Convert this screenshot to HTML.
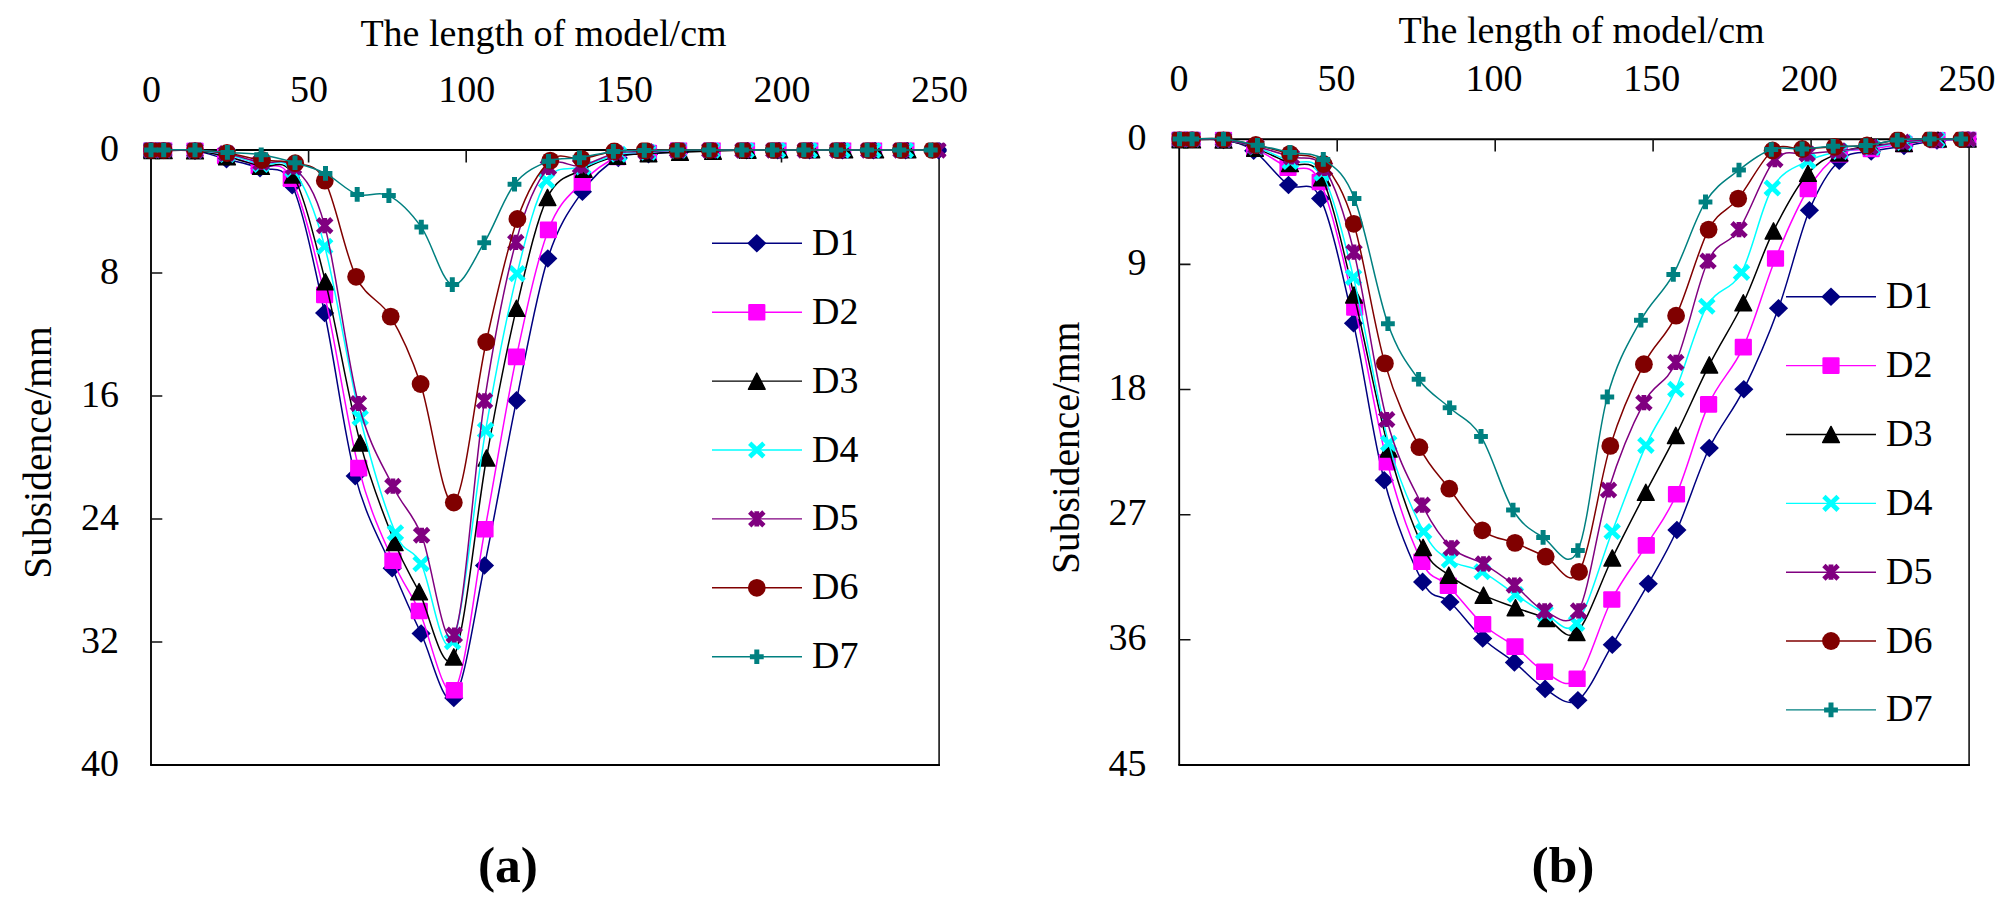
<!DOCTYPE html>
<html lang="en">
<head>
<meta charset="utf-8">
<title>Subsidence curves</title>
<style>
html,body{margin:0;padding:0;background:#fff;}
body{width:2008px;height:914px;overflow:hidden;}
svg{display:block;}
svg text{font-family:"Liberation Serif", "Times New Roman", serif;font-size:38px;fill:#000;}
.cap{font-weight:bold;font-size:51.5px;}
.yt{font-size:39.5px;}
</style>
</head>
<body>
<svg width="2008" height="914" viewBox="0 0 2008 914">
<defs>
<path id="m1" d="M0 -9.3L9.6 0L0 9.3L-9.6 0Z" fill="#000080"/>
<rect id="m2" x="-8.6" y="-8.3" width="17.2" height="16.6" rx="1.2" fill="#ff00ff"/>
<path id="m3" d="M0 -8.1L8.4 8.1L-8.4 8.1Z" fill="#000000" stroke="#000000" stroke-width="1.4" stroke-linejoin="round"/>
<path id="m4" d="M-7.1 -6.8L7.1 6.8M-7.1 6.8L7.1 -6.8" stroke="#00ffff" stroke-width="4.8" fill="none"/>
<path id="m5" d="M-7.1 -6.8L7.1 6.8M-7.1 6.8L7.1 -6.8M0 -7.6L0 7.6" stroke="#800080" stroke-width="4.8" fill="none"/>
<circle id="m6" r="8.9" fill="#800000"/>
<path id="m7" d="M-6.9 0L6.9 0M0 -7.3L0 7.3" stroke="#008080" stroke-width="5" fill="none"/>
<clipPath id="clipL"><rect x="143.4" y="142.4" width="803.3" height="630.2"/></clipPath>
<clipPath id="clipR"><rect x="1171.6" y="131.7" width="805.1" height="641"/></clipPath>
</defs>
<rect width="2008" height="914" fill="#fff"/>
<g id="left-chart">
<path d="M939.1 150V765.9" fill="none" stroke="#222" stroke-width="1.7"/>
<path d="M150.1 765H939.9" fill="none" stroke="#000" stroke-width="1.8"/>
<path d="M151 765L151 150L939.1 150" fill="none" stroke="#000" stroke-width="1.85" stroke-linejoin="miter"/>
<path d="M308.6 150v12.4M466.2 150v12.4M623.9 150v12.4M781.5 150v12.4M151 273h11.3M151 396h11.3M151 519h11.3M151 642h11.3" stroke="#111" stroke-width="1.6" fill="none"/>
<text x="151.5" y="102" text-anchor="middle">0</text>
<text x="309.1" y="102" text-anchor="middle">50</text>
<text x="466.7" y="102" text-anchor="middle">100</text>
<text x="624.4" y="102" text-anchor="middle">150</text>
<text x="782" y="102" text-anchor="middle">200</text>
<text x="939.6" y="102" text-anchor="middle">250</text>
<text x="119" y="160.5" text-anchor="end">0</text>
<text x="119" y="283.5" text-anchor="end">8</text>
<text x="119" y="406.5" text-anchor="end">16</text>
<text x="119" y="529.5" text-anchor="end">24</text>
<text x="119" y="652.5" text-anchor="end">32</text>
<text x="119" y="775.5" text-anchor="end">40</text>
<text x="543.5" y="45.5" text-anchor="middle">The length of model/cm</text>
<text class="yt" transform="translate(50.8 452.5) rotate(-90)" text-anchor="middle">Subsidence/mm</text>
<g clip-path="url(#clipL)">
<path d="M151 149.9C153.1 149.9 156.4 149.8 163.7 149.9C171 150.1 184.5 149.2 195 150.8C205.5 152.4 215.7 156.3 226.5 159.2C237.3 162.1 249.1 164 260 168.3C270.9 172.7 281.4 161.2 292.2 185.3C303 209.4 314.1 264.5 324.6 313C335.1 361.5 343.9 433.6 355.2 476.1C366.5 518.6 381.2 542 392.2 568.2C403.2 594.4 410.8 611.9 421.1 633.5C431.4 655.1 443.2 709.2 453.8 697.9C464.4 686.6 474.1 615.1 484.5 565.5C494.9 515.9 505.9 451.6 516.5 400.4C527 349.2 536.8 293.3 547.8 258.5C558.8 223.7 570.6 208.4 582.4 191.7C594.1 174.9 607.3 164.2 618.3 158C629.3 151.8 638.2 155.3 648.5 154.2C658.8 153.1 669.4 152.3 680 151.6C690.6 150.9 701 150.4 712.1 150.2C723.2 150 735.4 150.2 746.3 150.2C757.3 150.2 767.2 150.2 777.7 150.2C788.3 150.2 798.8 150.2 809.6 150.2C820.3 150.2 831.8 150.2 842.4 150.2C853 150.2 862.8 150.2 873.3 150.2C883.8 150.2 894.7 150.2 905.6 150.2C916.5 150.2 933 150.2 938.5 150.2" fill="none" stroke="#000080" stroke-width="1.5"/>
<use href="#m1" x="151" y="149.9"/><use href="#m1" x="163.7" y="149.9"/><use href="#m1" x="195" y="150.8"/><use href="#m1" x="226.5" y="159.2"/><use href="#m1" x="260" y="168.3"/><use href="#m1" x="292.2" y="185.3"/><use href="#m1" x="324.6" y="313"/><use href="#m1" x="355.2" y="476.1"/><use href="#m1" x="392.2" y="568.2"/><use href="#m1" x="421.1" y="633.5"/><use href="#m1" x="453.8" y="697.9"/><use href="#m1" x="484.5" y="565.5"/><use href="#m1" x="516.5" y="400.4"/><use href="#m1" x="547.8" y="258.5"/><use href="#m1" x="582.4" y="191.7"/><use href="#m1" x="618.3" y="158"/><use href="#m1" x="648.5" y="154.2"/><use href="#m1" x="680" y="151.6"/><use href="#m1" x="712.1" y="150.2"/><use href="#m1" x="746.3" y="150.2"/><use href="#m1" x="777.7" y="150.2"/><use href="#m1" x="809.6" y="150.2"/><use href="#m1" x="842.4" y="150.2"/><use href="#m1" x="873.3" y="150.2"/><use href="#m1" x="905.6" y="150.2"/><use href="#m1" x="938.5" y="150.2"/>
<path d="M151 149.9C153.1 149.9 156.4 149.8 163.7 149.9C171 150 184.7 149.5 195 150.5C205.3 151.5 214.8 153.4 225.5 156C236.2 158.6 248.2 162.2 259.2 166C270.2 169.8 280.4 157.2 291.3 178.7C302.2 200.2 313.4 246.7 324.6 294.9C335.8 343.1 347.3 423.8 358.7 468.1C370.1 512.4 382.8 536.9 392.9 560.7C403 584.5 409.1 589.4 419.3 611C429.5 632.6 443.4 703.9 454.3 690.3C465.2 676.7 474.6 584.8 485 529.2C495.4 473.6 505.8 406.8 516.4 356.9C527 307 537.4 259 548.4 229.9C559.4 200.8 570.7 194.7 582.2 182.5C593.7 170.3 606.2 161.9 617.3 157C628.3 152.1 638.3 154.2 648.5 153C658.7 151.8 668 150.4 678.6 149.9C689.2 149.4 700.9 149.9 712.2 149.9C723.6 149.9 735.6 149.9 746.5 149.9C757.5 149.9 767.4 149.9 778 149.9C788.5 149.9 799 149.9 809.8 149.9C820.6 149.9 832.1 149.9 842.7 149.9C853.3 149.9 863.1 149.9 873.6 149.9C884.1 149.9 900.5 149.9 905.9 149.9" fill="none" stroke="#ff00ff" stroke-width="1.5"/>
<use href="#m2" x="151" y="149.9"/><use href="#m2" x="163.7" y="149.9"/><use href="#m2" x="195" y="150.5"/><use href="#m2" x="225.5" y="156"/><use href="#m2" x="259.2" y="166"/><use href="#m2" x="291.3" y="178.7"/><use href="#m2" x="324.6" y="294.9"/><use href="#m2" x="358.7" y="468.1"/><use href="#m2" x="392.9" y="560.7"/><use href="#m2" x="419.3" y="611"/><use href="#m2" x="454.3" y="690.3"/><use href="#m2" x="485" y="529.2"/><use href="#m2" x="516.4" y="356.9"/><use href="#m2" x="548.4" y="229.9"/><use href="#m2" x="582.2" y="182.5"/><use href="#m2" x="617.3" y="157"/><use href="#m2" x="648.5" y="153"/><use href="#m2" x="678.6" y="149.9"/><use href="#m2" x="712.2" y="149.9"/><use href="#m2" x="746.5" y="149.9"/><use href="#m2" x="778" y="149.9"/><use href="#m2" x="809.8" y="149.9"/><use href="#m2" x="842.7" y="149.9"/><use href="#m2" x="873.6" y="149.9"/><use href="#m2" x="905.9" y="149.9"/>
<path d="M151 150.5C153.1 150.5 156.4 150.4 163.7 150.5C171 150.6 184.4 149.8 195 150.8C205.6 151.9 216 154.2 227 156.8C238 159.4 250 163.3 261 166.3C272 169.3 282.3 155.8 293 175C303.7 194.2 314.2 237 325.4 281.6C336.6 326.2 348.6 399.4 360.2 442.9C371.8 486.4 384.9 517.7 394.7 542.5C404.5 567.3 409.2 572.6 419.1 591.7C429 610.8 442.6 679.2 453.8 656.9C465 634.6 476.1 516.1 486.5 458C496.9 399.9 506.2 351.7 516.4 308.3C526.6 264.9 536.3 220.6 547.5 197.4C558.7 174.2 572.1 176.1 583.7 169.2C595.3 162.3 606.5 158.8 617.3 156.2C628.1 153.6 638 154.2 648.5 153.6C659 152.9 669.2 152.7 680 152.3C690.8 151.9 701.7 151.5 713 151.1C724.3 150.7 736.6 150.3 747.7 150.1C758.8 149.9 768.7 149.8 779.3 149.7C789.9 149.6 800.5 149.7 811.3 149.7C822.1 149.7 833.7 149.7 844.3 149.7C854.9 149.7 864.7 149.7 875.2 149.7C885.7 149.7 902.1 149.7 907.5 149.7" fill="none" stroke="#000000" stroke-width="1.5"/>
<use href="#m3" x="151" y="150.5"/><use href="#m3" x="163.7" y="150.5"/><use href="#m3" x="195" y="150.8"/><use href="#m3" x="227" y="156.8"/><use href="#m3" x="261" y="166.3"/><use href="#m3" x="293" y="175"/><use href="#m3" x="325.4" y="281.6"/><use href="#m3" x="360.2" y="442.9"/><use href="#m3" x="394.7" y="542.5"/><use href="#m3" x="419.1" y="591.7"/><use href="#m3" x="453.8" y="656.9"/><use href="#m3" x="486.5" y="458"/><use href="#m3" x="516.4" y="308.3"/><use href="#m3" x="547.5" y="197.4"/><use href="#m3" x="583.7" y="169.2"/><use href="#m3" x="617.3" y="156.2"/><use href="#m3" x="648.5" y="153.6"/><use href="#m3" x="680" y="152.3"/><use href="#m3" x="713" y="151.1"/><use href="#m3" x="747.7" y="150.1"/><use href="#m3" x="779.3" y="149.7"/><use href="#m3" x="811.3" y="149.7"/><use href="#m3" x="844.3" y="149.7"/><use href="#m3" x="875.2" y="149.7"/><use href="#m3" x="907.5" y="149.7"/>
<path d="M151 149.9C153.1 149.9 156.4 149.8 163.7 149.9C171 150 184.4 149.7 195 150.5C205.6 151.3 216 152.2 227 154.5C238 156.8 250 162 261 164.5C272 167 282.4 155.8 293 169.5C303.6 183.2 313.5 205 324.7 246.4C335.9 287.8 348.4 370.1 360.2 417.8C372 465.5 385.2 508.4 395.4 532.7C405.5 557 411.6 545.5 421.1 563.7C430.6 581.9 441.9 664 452.6 641.8C463.4 619.6 474.9 491.8 485.6 430.4C496.4 369 506.9 315.2 517.1 273.6C527.3 232 535.6 198.3 546.6 180.5C557.6 162.7 571 171.4 583 167C595 162.6 607.7 156.7 618.5 154.2C629.3 151.7 638 152.8 648 152.2C658 151.5 667.8 150.6 678.5 150.3C689.1 150 700.7 150.3 712 150.3C723.2 150.3 735.2 150.3 746.1 150.3C757 150.3 766.9 150.3 777.5 150.3C788 150.3 798.5 150.3 809.3 150.3C820.1 150.3 831.5 150.3 842.1 150.3C852.7 150.3 862.5 150.3 873 150.3C883.5 150.3 899.9 150.3 905.3 150.3" fill="none" stroke="#00ffff" stroke-width="1.5"/>
<use href="#m4" x="151" y="149.9"/><use href="#m4" x="163.7" y="149.9"/><use href="#m4" x="195" y="150.5"/><use href="#m4" x="227" y="154.5"/><use href="#m4" x="261" y="164.5"/><use href="#m4" x="293" y="169.5"/><use href="#m4" x="324.7" y="246.4"/><use href="#m4" x="360.2" y="417.8"/><use href="#m4" x="395.4" y="532.7"/><use href="#m4" x="421.1" y="563.7"/><use href="#m4" x="452.6" y="641.8"/><use href="#m4" x="485.6" y="430.4"/><use href="#m4" x="517.1" y="273.6"/><use href="#m4" x="546.6" y="180.5"/><use href="#m4" x="583" y="167"/><use href="#m4" x="618.5" y="154.2"/><use href="#m4" x="648" y="152.2"/><use href="#m4" x="678.5" y="150.3"/><use href="#m4" x="712" y="150.3"/><use href="#m4" x="746.1" y="150.3"/><use href="#m4" x="777.5" y="150.3"/><use href="#m4" x="809.3" y="150.3"/><use href="#m4" x="842.1" y="150.3"/><use href="#m4" x="873" y="150.3"/><use href="#m4" x="905.3" y="150.3"/>
<path d="M151 149.9C153.1 149.9 156.4 149.8 163.7 149.9C171 150 184.5 149.8 195 150.4C205.5 151 215.5 151.5 226.5 153.5C237.5 155.5 249.8 160.2 261 162.5C272.2 164.8 282.9 156.5 293.5 167C304.1 177.5 313.9 186.2 324.7 225.6C335.5 265 347 360.1 358.4 403.5C369.8 446.9 382.4 464.2 392.9 486.2C403.4 508.2 411.4 510.5 421.6 535.3C431.8 560.1 443.8 657.4 454.3 635C464.8 612.6 474.2 466.2 484.5 400.8C494.8 335.4 505.1 281.3 515.8 242.4C526.4 203.5 537.6 180.2 548.4 167.5C559.2 154.8 569.3 168.4 580.5 166C591.7 163.6 604.5 155.6 615.4 153.2C626.3 150.8 635.6 152.1 646 151.6C656.4 151.1 666.9 150.4 677.5 150.2C688.2 150 698.9 150.2 709.8 150.2C720.7 150.2 732.4 150.2 743 150.2C753.7 150.2 763.4 150.2 773.8 150.2C784.1 150.2 794.6 150.2 805.3 150.2C816 150.2 827.2 150.2 837.8 150.2C848.4 150.2 858.2 150.2 868.7 150.2C879.2 150.2 889.5 150.2 901 150.2C912.5 150.2 931.8 150.2 938 150.2" fill="none" stroke="#800080" stroke-width="1.5"/>
<use href="#m5" x="151" y="149.9"/><use href="#m5" x="163.7" y="149.9"/><use href="#m5" x="195" y="150.4"/><use href="#m5" x="226.5" y="153.5"/><use href="#m5" x="261" y="162.5"/><use href="#m5" x="293.5" y="167"/><use href="#m5" x="324.7" y="225.6"/><use href="#m5" x="358.4" y="403.5"/><use href="#m5" x="392.9" y="486.2"/><use href="#m5" x="421.6" y="535.3"/><use href="#m5" x="454.3" y="635"/><use href="#m5" x="484.5" y="400.8"/><use href="#m5" x="515.8" y="242.4"/><use href="#m5" x="548.4" y="167.5"/><use href="#m5" x="580.5" y="166"/><use href="#m5" x="615.4" y="153.2"/><use href="#m5" x="646" y="151.6"/><use href="#m5" x="677.5" y="150.2"/><use href="#m5" x="709.8" y="150.2"/><use href="#m5" x="743" y="150.2"/><use href="#m5" x="773.8" y="150.2"/><use href="#m5" x="805.3" y="150.2"/><use href="#m5" x="837.8" y="150.2"/><use href="#m5" x="868.7" y="150.2"/><use href="#m5" x="901" y="150.2"/><use href="#m5" x="938" y="150.2"/>
<path d="M151 149.9C153.1 149.9 156.4 149.9 163.7 149.9C171 149.9 184.4 149.4 195 149.9C205.6 150.4 215.8 151.3 227 153C238.2 154.7 250.6 158.3 262 160C273.4 161.7 284.7 159.8 295.2 163.2C305.7 166.6 314.6 161.8 324.8 180.7C335 199.6 345.1 254.2 356.1 276.8C367.1 299.5 379.9 298.7 390.7 316.6C401.4 334.5 410.1 353 420.6 384C431.1 415 442.9 509.5 453.8 502.5C464.7 495.5 475.6 389.2 486.2 342C496.8 294.8 506.7 249.2 517.4 219C528.1 188.8 539.6 170.6 550.3 160.6C561 150.6 570.8 160.5 581.5 158.9C592.2 157.3 603.8 152.6 614.3 151.2C624.8 149.8 634.3 150.6 644.8 150.4C655.3 150.2 666.7 150 677.5 149.9C688.3 149.8 698.8 149.9 709.7 149.9C720.6 149.9 732.2 149.9 742.9 149.9C753.5 149.9 763.2 149.9 773.6 149.9C784 149.9 794.4 149.9 805.1 149.9C815.8 149.9 827 149.9 837.6 149.9C848.2 149.9 858 149.9 868.5 149.9C879 149.9 890.2 149.9 900.8 149.9C911.4 149.9 927 149.9 932.3 149.9" fill="none" stroke="#800000" stroke-width="1.5"/>
<use href="#m6" x="151" y="149.9"/><use href="#m6" x="163.7" y="149.9"/><use href="#m6" x="195" y="149.9"/><use href="#m6" x="227" y="153"/><use href="#m6" x="262" y="160"/><use href="#m6" x="295.2" y="163.2"/><use href="#m6" x="324.8" y="180.7"/><use href="#m6" x="356.1" y="276.8"/><use href="#m6" x="390.7" y="316.6"/><use href="#m6" x="420.6" y="384"/><use href="#m6" x="453.8" y="502.5"/><use href="#m6" x="486.2" y="342"/><use href="#m6" x="517.4" y="219"/><use href="#m6" x="550.3" y="160.6"/><use href="#m6" x="581.5" y="158.9"/><use href="#m6" x="614.3" y="151.2"/><use href="#m6" x="644.8" y="150.4"/><use href="#m6" x="677.5" y="149.9"/><use href="#m6" x="709.7" y="149.9"/><use href="#m6" x="742.9" y="149.9"/><use href="#m6" x="773.6" y="149.9"/><use href="#m6" x="805.1" y="149.9"/><use href="#m6" x="837.6" y="149.9"/><use href="#m6" x="868.5" y="149.9"/><use href="#m6" x="900.8" y="149.9"/><use href="#m6" x="932.3" y="149.9"/>
<path d="M151 149.9C153.1 149.9 156.4 149.9 163.7 149.9C171 149.9 184.4 149.5 195 149.9C205.6 150.3 216.4 151.6 227.4 152.4C238.4 153.2 249.9 153 261.2 154.7C272.5 156.4 284.3 159.6 295 162.7C305.7 165.8 315.1 168.1 325.5 173.4C335.9 178.7 346.6 190.7 357.2 194.4C367.8 198.1 378.2 190.2 388.9 195.6C399.6 201 410.7 212.3 421.3 227.1C431.9 241.9 441.8 282 452.3 284.6C462.8 287.2 473.8 259.4 484.2 242.7C494.6 226 503.8 197.8 514.5 184.2C525.2 170.6 537.7 165.6 548.5 161.2C559.3 156.8 568.7 159.4 579.5 157.8C590.3 156.2 602.6 152.6 613.4 151.4C624.2 150.2 633.7 150.7 644.3 150.5C654.9 150.3 666.4 150.2 677.2 150.1C688 150 698.2 149.9 709 149.9C719.8 149.9 731.3 149.9 741.9 149.9C752.5 149.9 762.1 149.9 772.4 149.9C782.7 149.9 793.2 149.9 803.8 149.9C814.4 149.9 825.7 149.9 836.2 149.9C846.8 149.9 856.6 149.9 867.1 149.9C877.6 149.9 888.8 149.9 899.4 149.9C910 149.9 925.6 149.9 930.8 149.9" fill="none" stroke="#008080" stroke-width="1.5"/>
<use href="#m7" x="151" y="149.9"/><use href="#m7" x="163.7" y="149.9"/><use href="#m7" x="195" y="149.9"/><use href="#m7" x="227.4" y="152.4"/><use href="#m7" x="261.2" y="154.7"/><use href="#m7" x="295" y="162.7"/><use href="#m7" x="325.5" y="173.4"/><use href="#m7" x="357.2" y="194.4"/><use href="#m7" x="388.9" y="195.6"/><use href="#m7" x="421.3" y="227.1"/><use href="#m7" x="452.3" y="284.6"/><use href="#m7" x="484.2" y="242.7"/><use href="#m7" x="514.5" y="184.2"/><use href="#m7" x="548.5" y="161.2"/><use href="#m7" x="579.5" y="157.8"/><use href="#m7" x="613.4" y="151.4"/><use href="#m7" x="644.3" y="150.5"/><use href="#m7" x="677.2" y="150.1"/><use href="#m7" x="709" y="149.9"/><use href="#m7" x="741.9" y="149.9"/><use href="#m7" x="772.4" y="149.9"/><use href="#m7" x="803.8" y="149.9"/><use href="#m7" x="836.2" y="149.9"/><use href="#m7" x="867.1" y="149.9"/><use href="#m7" x="899.4" y="149.9"/><use href="#m7" x="930.8" y="149.9"/>
</g>
<path d="M712 243.3H802" stroke="#000080" stroke-width="1.4"/>
<use href="#m1" x="756.8" y="243.3"/>
<text x="812" y="254.8">D1</text>
<path d="M712 312.2H802" stroke="#ff00ff" stroke-width="1.4"/>
<use href="#m2" x="756.8" y="312.2"/>
<text x="812" y="323.7">D2</text>
<path d="M712 381.1H802" stroke="#000000" stroke-width="1.4"/>
<use href="#m3" x="756.8" y="381.1"/>
<text x="812" y="392.6">D3</text>
<path d="M712 450H802" stroke="#00ffff" stroke-width="1.4"/>
<use href="#m4" x="756.8" y="450"/>
<text x="812" y="461.5">D4</text>
<path d="M712 518.9H802" stroke="#800080" stroke-width="1.4"/>
<use href="#m5" x="756.8" y="518.9"/>
<text x="812" y="530.4">D5</text>
<path d="M712 587.8H802" stroke="#800000" stroke-width="1.4"/>
<use href="#m6" x="756.8" y="587.8"/>
<text x="812" y="599.3">D6</text>
<path d="M712 656.7H802" stroke="#008080" stroke-width="1.4"/>
<use href="#m7" x="756.8" y="656.7"/>
<text x="812" y="668.2">D7</text>
<text class="cap" x="508" y="882" text-anchor="middle">(a)</text>
</g>
<g id="right-chart">
<path d="M1969.1 139.2V765.9" fill="none" stroke="#222" stroke-width="1.7"/>
<path d="M1178.3 765H1969.9" fill="none" stroke="#000" stroke-width="1.8"/>
<path d="M1179.2 765L1179.2 139.2L1969.1 139.2" fill="none" stroke="#000" stroke-width="1.85" stroke-linejoin="miter"/>
<path d="M1337.2 139.2v12.4M1495.2 139.2v12.4M1653.1 139.2v12.4M1811.1 139.2v12.4M1179.2 264.4h11.3M1179.2 389.5h11.3M1179.2 514.7h11.3M1179.2 639.8h11.3" stroke="#111" stroke-width="1.6" fill="none"/>
<text x="1178.9" y="91" text-anchor="middle">0</text>
<text x="1336.5" y="91" text-anchor="middle">50</text>
<text x="1494.1" y="91" text-anchor="middle">100</text>
<text x="1651.7" y="91" text-anchor="middle">150</text>
<text x="1809.3" y="91" text-anchor="middle">200</text>
<text x="1966.9" y="91" text-anchor="middle">250</text>
<text x="1146.5" y="149.8" text-anchor="end">0</text>
<text x="1146.5" y="274.9" text-anchor="end">9</text>
<text x="1146.5" y="400" text-anchor="end">18</text>
<text x="1146.5" y="525.2" text-anchor="end">27</text>
<text x="1146.5" y="650.3" text-anchor="end">36</text>
<text x="1146.5" y="775.5" text-anchor="end">45</text>
<text x="1581.5" y="42.5" text-anchor="middle">The length of model/cm</text>
<text class="yt" transform="translate(1079 447.8) rotate(-90)" text-anchor="middle">Subsidence/mm</text>
<g clip-path="url(#clipR)">
<path d="M1179.5 139C1181.6 139 1184.8 138.8 1192.1 139C1199.4 139.2 1213.2 138.1 1223.5 140C1233.8 141.9 1242.9 143.2 1253.7 150.7C1264.5 158.2 1277.3 177 1288.5 185C1299.7 193 1309.8 175.5 1320.6 198.6C1331.4 221.7 1342.9 276.4 1353.5 323.3C1364.1 370.2 1372.7 437.1 1384.2 480.2C1395.7 523.3 1411.6 561.6 1422.6 581.9C1433.6 602.2 1440 592.6 1450 602C1460 611.4 1472 628.4 1482.7 638.5C1493.4 648.6 1504 654 1514.4 662.4C1524.8 670.8 1534.5 682.6 1545.1 688.9C1555.7 695.2 1566.7 707.6 1577.9 700.2C1589.1 692.9 1600.6 664.2 1612.3 644.8C1624 625.4 1637.5 602.8 1648.3 583.7C1659.1 564.6 1666.7 552.6 1676.9 530C1687.1 507.4 1698.2 471.4 1709.3 448C1720.4 424.6 1732.3 412.6 1743.8 389.3C1755.3 366 1767.6 338.1 1778.5 308.2C1789.4 278.3 1799.3 234.8 1809.4 210.2C1819.5 185.6 1828.9 170.5 1839.2 160.7C1849.5 150.9 1860.4 153.8 1871.2 151.4C1882 149 1893 147.8 1904 146C1915 144.2 1926.3 141.7 1937 140.5C1947.7 139.3 1962.8 139.2 1968 139" fill="none" stroke="#000080" stroke-width="1.5"/>
<use href="#m1" x="1179.5" y="139"/><use href="#m1" x="1192.1" y="139"/><use href="#m1" x="1223.5" y="140"/><use href="#m1" x="1253.7" y="150.7"/><use href="#m1" x="1288.5" y="185"/><use href="#m1" x="1320.6" y="198.6"/><use href="#m1" x="1353.5" y="323.3"/><use href="#m1" x="1384.2" y="480.2"/><use href="#m1" x="1422.6" y="581.9"/><use href="#m1" x="1450" y="602"/><use href="#m1" x="1482.7" y="638.5"/><use href="#m1" x="1514.4" y="662.4"/><use href="#m1" x="1545.1" y="688.9"/><use href="#m1" x="1577.9" y="700.2"/><use href="#m1" x="1612.3" y="644.8"/><use href="#m1" x="1648.3" y="583.7"/><use href="#m1" x="1676.9" y="530"/><use href="#m1" x="1709.3" y="448"/><use href="#m1" x="1743.8" y="389.3"/><use href="#m1" x="1778.5" y="308.2"/><use href="#m1" x="1809.4" y="210.2"/><use href="#m1" x="1839.2" y="160.7"/><use href="#m1" x="1871.2" y="151.4"/><use href="#m1" x="1904" y="146"/><use href="#m1" x="1937" y="140.5"/><use href="#m1" x="1968" y="139"/>
<path d="M1179.5 139C1181.6 139 1184.8 138.9 1192.1 139C1199.4 139.1 1213.1 138.2 1223.5 139.8C1233.9 141.4 1244 144 1254.7 148.6C1265.5 153.2 1277.1 162 1288 167.6C1298.9 173.2 1309.1 158.7 1320.2 182C1331.3 205.3 1343.5 260.8 1354.7 307.5C1365.9 354.2 1376 419.9 1387.2 462.3C1398.4 504.7 1411.6 541.2 1421.8 561.8C1432 582.4 1438.1 575.3 1448.3 585.7C1458.5 596.1 1471.6 614.1 1482.7 624.2C1493.8 634.4 1504.7 638.7 1515 646.6C1525.3 654.5 1534.2 666.3 1544.6 671.7C1554.9 677.1 1565.9 690.8 1577.1 678.8C1588.3 666.8 1600.3 621.7 1611.8 599.5C1623.3 577.3 1635.5 562.9 1646.3 545.4C1657.1 527.9 1666.1 517.7 1676.5 494.2C1686.9 470.7 1697.5 428.9 1708.6 404.4C1719.7 379.9 1732.1 371.4 1743.3 347.1C1754.5 322.8 1764.7 284.9 1775.5 258.5C1786.3 232.2 1797.5 206.4 1808.2 189C1818.9 171.6 1829 161 1839.5 154.3C1850 147.6 1860.5 150.7 1871.2 149C1882 147.3 1893 145.5 1904 144C1915 142.5 1926.3 140.8 1937 140C1947.7 139.2 1962.8 139.2 1968 139" fill="none" stroke="#ff00ff" stroke-width="1.5"/>
<use href="#m2" x="1179.5" y="139"/><use href="#m2" x="1192.1" y="139"/><use href="#m2" x="1223.5" y="139.8"/><use href="#m2" x="1254.7" y="148.6"/><use href="#m2" x="1288" y="167.6"/><use href="#m2" x="1320.2" y="182"/><use href="#m2" x="1354.7" y="307.5"/><use href="#m2" x="1387.2" y="462.3"/><use href="#m2" x="1421.8" y="561.8"/><use href="#m2" x="1448.3" y="585.7"/><use href="#m2" x="1482.7" y="624.2"/><use href="#m2" x="1515" y="646.6"/><use href="#m2" x="1544.6" y="671.7"/><use href="#m2" x="1577.1" y="678.8"/><use href="#m2" x="1611.8" y="599.5"/><use href="#m2" x="1646.3" y="545.4"/><use href="#m2" x="1676.5" y="494.2"/><use href="#m2" x="1708.6" y="404.4"/><use href="#m2" x="1743.3" y="347.1"/><use href="#m2" x="1775.5" y="258.5"/><use href="#m2" x="1808.2" y="189"/><use href="#m2" x="1839.5" y="154.3"/><use href="#m2" x="1871.2" y="149"/><use href="#m2" x="1904" y="144"/><use href="#m2" x="1937" y="140"/><use href="#m2" x="1968" y="139"/>
<path d="M1179.5 139.8C1181.6 139.8 1184.8 139.8 1192.1 139.8C1199.4 139.8 1213 138.6 1223.5 140C1234 141.4 1243.9 144.2 1255 148.1C1266.1 152 1278.8 158.6 1290 163.5C1301.2 168.4 1311.3 155.9 1322 177.8C1332.7 199.7 1342.9 249.8 1354 295C1365.1 340.2 1377.2 406.9 1388.7 449C1400.2 491.1 1413.1 526.4 1423.1 547.4C1433.1 568.4 1438.7 567.1 1448.8 575.1C1458.9 583.1 1472.4 589.8 1483.5 595.2C1494.6 600.6 1505 603.7 1515.5 607.6C1526 611.5 1536.2 614.4 1546.4 618.5C1556.6 622.6 1565.6 642.6 1576.6 632.5C1587.6 622.4 1600.8 581.4 1612.3 558C1623.8 534.6 1635.2 512.7 1645.8 492.3C1656.4 471.9 1665.2 456.6 1675.8 435.4C1686.4 414.2 1698 387 1709.3 364.9C1720.5 342.8 1732.6 325.1 1743.3 302.8C1754 280.5 1762.7 252.5 1773.5 230.9C1784.3 209.3 1797 186.3 1808 173.3C1819 160.3 1828.7 157.6 1839.2 153C1849.7 148.4 1860.4 147.2 1871.2 145.6C1882 144 1892.9 144.6 1904 143.5C1915.1 142.4 1927.3 139.8 1938 139C1948.7 138.2 1963 139 1968 139" fill="none" stroke="#000000" stroke-width="1.5"/>
<use href="#m3" x="1179.5" y="139.8"/><use href="#m3" x="1192.1" y="139.8"/><use href="#m3" x="1223.5" y="140"/><use href="#m3" x="1255" y="148.1"/><use href="#m3" x="1290" y="163.5"/><use href="#m3" x="1322" y="177.8"/><use href="#m3" x="1354" y="295"/><use href="#m3" x="1388.7" y="449"/><use href="#m3" x="1423.1" y="547.4"/><use href="#m3" x="1448.8" y="575.1"/><use href="#m3" x="1483.5" y="595.2"/><use href="#m3" x="1515.5" y="607.6"/><use href="#m3" x="1546.4" y="618.5"/><use href="#m3" x="1576.6" y="632.5"/><use href="#m3" x="1612.3" y="558"/><use href="#m3" x="1645.8" y="492.3"/><use href="#m3" x="1675.8" y="435.4"/><use href="#m3" x="1709.3" y="364.9"/><use href="#m3" x="1743.3" y="302.8"/><use href="#m3" x="1773.5" y="230.9"/><use href="#m3" x="1808" y="173.3"/><use href="#m3" x="1839.2" y="153"/><use href="#m3" x="1871.2" y="145.6"/><use href="#m3" x="1904" y="143.5"/><use href="#m3" x="1938" y="139"/><use href="#m3" x="1968" y="139"/>
<path d="M1179.5 139C1181.6 139 1184.8 138.9 1192.1 139C1199.4 139.1 1212.8 138.5 1223.5 139.8C1234.2 141.1 1244.9 143.4 1256 147C1267.1 150.6 1279.3 157.2 1290.3 161.5C1301.3 165.8 1311.5 153.7 1322 173C1332.5 192.3 1342.4 232.3 1353.5 277.4C1364.6 322.5 1377 401 1388.7 443.4C1400.4 485.8 1413.5 512.2 1423.6 531.6C1433.7 551 1439.7 553.3 1449.5 560C1459.3 566.7 1471.2 566 1482.2 571.8C1493.2 577.5 1505 587.6 1515.5 594.5C1526 601.4 1534.9 608.6 1545.1 613.4C1555.3 618.2 1565.4 637 1576.6 623.4C1587.8 609.8 1600.7 561.2 1612.2 531.5C1623.8 501.8 1635.3 469.1 1645.9 445.4C1656.5 421.7 1665.7 412.5 1675.8 389.3C1685.9 366.1 1695.8 325.8 1706.8 306.3C1717.8 286.8 1730.6 292.1 1741.5 272.4C1752.4 252.7 1761.2 206.6 1772.3 188C1783.3 169.4 1796.5 167.1 1807.8 161C1819.1 154.9 1829.3 153.8 1840 151.5C1850.7 149.2 1861.3 149 1872 147.5C1882.7 146 1893.2 143.8 1904 142.5C1914.8 141.2 1926.3 140.4 1937 139.8C1947.7 139.2 1962.8 139.1 1968 139" fill="none" stroke="#00ffff" stroke-width="1.5"/>
<use href="#m4" x="1179.5" y="139"/><use href="#m4" x="1192.1" y="139"/><use href="#m4" x="1223.5" y="139.8"/><use href="#m4" x="1256" y="147"/><use href="#m4" x="1290.3" y="161.5"/><use href="#m4" x="1322" y="173"/><use href="#m4" x="1353.5" y="277.4"/><use href="#m4" x="1388.7" y="443.4"/><use href="#m4" x="1423.6" y="531.6"/><use href="#m4" x="1449.5" y="560"/><use href="#m4" x="1482.2" y="571.8"/><use href="#m4" x="1515.5" y="594.5"/><use href="#m4" x="1545.1" y="613.4"/><use href="#m4" x="1576.6" y="623.4"/><use href="#m4" x="1612.2" y="531.5"/><use href="#m4" x="1645.9" y="445.4"/><use href="#m4" x="1675.8" y="389.3"/><use href="#m4" x="1706.8" y="306.3"/><use href="#m4" x="1741.5" y="272.4"/><use href="#m4" x="1772.3" y="188"/><use href="#m4" x="1807.8" y="161"/><use href="#m4" x="1840" y="151.5"/><use href="#m4" x="1872" y="147.5"/><use href="#m4" x="1904" y="142.5"/><use href="#m4" x="1937" y="139.8"/><use href="#m4" x="1968" y="139"/>
<path d="M1179.5 139C1181.6 139 1184.8 138.9 1192.1 139C1199.4 139.1 1212.8 138.4 1223.5 139.7C1234.2 140.9 1244.7 143.6 1256 146.5C1267.3 149.4 1280.1 153.3 1291.5 157C1302.9 160.7 1314.1 152.6 1324.5 168.5C1334.9 184.4 1343.6 210.4 1354 252.2C1364.4 294 1375.3 377.4 1386.7 419.5C1398.1 461.6 1411.4 483.7 1422.2 505.1C1433 526.5 1441.3 538.1 1451.5 547.9C1461.7 557.7 1473 557.6 1483.5 563.8C1494 570 1504.2 577.4 1514.4 585.2C1524.6 593.1 1533.9 606.6 1544.6 610.9C1555.3 615.2 1567.9 631 1578.6 610.9C1589.2 590.8 1597.6 524.7 1608.5 490C1619.4 455.3 1632.7 424 1643.9 402.7C1655.1 381.4 1665.1 386 1675.8 362.4C1686.5 338.8 1697.5 283.1 1708 261C1718.5 238.9 1727.9 246.5 1739 229.6C1750.1 212.7 1763.4 172.3 1774.8 159.7C1786.2 147.1 1796.6 155.5 1807.2 154C1817.8 152.5 1828 152 1838.5 150.8C1849 149.6 1859.4 148.5 1870 147C1880.6 145.5 1891.2 143.2 1902 142C1912.8 140.8 1924 140.3 1935 139.8C1946 139.3 1962.5 139.1 1968 139" fill="none" stroke="#800080" stroke-width="1.5"/>
<use href="#m5" x="1179.5" y="139"/><use href="#m5" x="1192.1" y="139"/><use href="#m5" x="1223.5" y="139.7"/><use href="#m5" x="1256" y="146.5"/><use href="#m5" x="1291.5" y="157"/><use href="#m5" x="1324.5" y="168.5"/><use href="#m5" x="1354" y="252.2"/><use href="#m5" x="1386.7" y="419.5"/><use href="#m5" x="1422.2" y="505.1"/><use href="#m5" x="1451.5" y="547.9"/><use href="#m5" x="1483.5" y="563.8"/><use href="#m5" x="1514.4" y="585.2"/><use href="#m5" x="1544.6" y="610.9"/><use href="#m5" x="1578.6" y="610.9"/><use href="#m5" x="1608.5" y="490"/><use href="#m5" x="1643.9" y="402.7"/><use href="#m5" x="1675.8" y="362.4"/><use href="#m5" x="1708" y="261"/><use href="#m5" x="1739" y="229.6"/><use href="#m5" x="1774.8" y="159.7"/><use href="#m5" x="1807.2" y="154"/><use href="#m5" x="1838.5" y="150.8"/><use href="#m5" x="1870" y="147"/><use href="#m5" x="1902" y="142"/><use href="#m5" x="1935" y="139.8"/><use href="#m5" x="1968" y="139"/>
<path d="M1179.5 139C1181.6 139 1184.8 139 1192.1 139C1199.4 139 1212.9 138 1223.5 139C1234.1 140 1244.7 142.5 1255.8 145C1266.9 147.5 1278.7 150.7 1290 153.9C1301.3 157.1 1312.9 152.3 1323.5 164C1334.1 175.7 1343.6 190.6 1353.8 223.8C1364 257 1374 326.2 1384.9 363.4C1395.8 400.6 1408.7 426.3 1419.4 447.2C1430.1 468.1 1438.8 474.9 1449.3 488.7C1459.8 502.5 1471.3 521.3 1482.3 530.3C1493.2 539.3 1504.4 538.5 1515 542.9C1525.6 547.3 1535 551.9 1545.7 556.7C1556.4 561.5 1568.3 590.3 1579.1 571.8C1589.9 553.3 1599.5 480.5 1610.3 445.9C1621.1 411.3 1632.9 385.9 1643.9 364.2C1654.9 342.5 1665.3 338.1 1676.1 315.7C1686.9 293.3 1698.2 249.1 1708.6 229.6C1718.9 210.1 1727.5 211.8 1738.2 198.6C1748.9 185.4 1761.9 158.8 1772.6 150.5C1783.3 142.2 1791.9 149.6 1802.3 149C1812.7 148.4 1823.9 147.5 1834.7 146.9C1845.5 146.3 1856.5 146.7 1867 145.5C1877.5 144.3 1887.4 141.1 1898 140C1908.6 138.9 1919.9 139.2 1930.5 139C1941.1 138.8 1956.3 139 1961.5 139" fill="none" stroke="#800000" stroke-width="1.5"/>
<use href="#m6" x="1179.5" y="139"/><use href="#m6" x="1192.1" y="139"/><use href="#m6" x="1223.5" y="139"/><use href="#m6" x="1255.8" y="145"/><use href="#m6" x="1290" y="153.9"/><use href="#m6" x="1323.5" y="164"/><use href="#m6" x="1353.8" y="223.8"/><use href="#m6" x="1384.9" y="363.4"/><use href="#m6" x="1419.4" y="447.2"/><use href="#m6" x="1449.3" y="488.7"/><use href="#m6" x="1482.3" y="530.3"/><use href="#m6" x="1515" y="542.9"/><use href="#m6" x="1545.7" y="556.7"/><use href="#m6" x="1579.1" y="571.8"/><use href="#m6" x="1610.3" y="445.9"/><use href="#m6" x="1643.9" y="364.2"/><use href="#m6" x="1676.1" y="315.7"/><use href="#m6" x="1708.6" y="229.6"/><use href="#m6" x="1738.2" y="198.6"/><use href="#m6" x="1772.6" y="150.5"/><use href="#m6" x="1802.3" y="149"/><use href="#m6" x="1834.7" y="146.9"/><use href="#m6" x="1867" y="145.5"/><use href="#m6" x="1898" y="140"/><use href="#m6" x="1930.5" y="139"/><use href="#m6" x="1961.5" y="139"/>
<path d="M1179.5 139C1181.6 139 1184.8 139 1192.1 139C1199.4 139 1212.6 138 1223.5 139C1234.4 140 1246.4 143 1257.5 145.2C1268.6 147.4 1278.9 150 1289.9 152.4C1300.9 154.8 1312.5 151.7 1323.3 159.4C1334.1 167.1 1343.7 171.2 1354.5 198.6C1365.3 226 1377.2 293.6 1387.9 323.7C1398.6 353.8 1408.3 365.3 1418.6 379.3C1428.9 393.3 1439.2 398.2 1449.6 407.7C1460 417.2 1470.4 419.3 1481 436.4C1491.6 453.4 1502.7 493.2 1513 510C1523.3 526.8 1532.3 530.6 1543.1 537.4C1553.9 544.1 1567.2 573.9 1577.9 550.5C1588.6 527.1 1596.8 435.3 1607.3 396.9C1617.8 358.5 1629.9 340.6 1640.9 320.2C1651.9 299.8 1662.5 294.1 1673.3 274.4C1684.1 254.7 1694.5 219.3 1705.5 201.9C1716.5 184.5 1728 178.7 1739 170C1750 161.3 1760.8 153 1771.3 149.5C1781.8 146 1791.8 149.4 1802.1 148.9C1812.4 148.4 1822.6 146.9 1833.2 146.3C1843.8 145.8 1855.1 146.7 1865.8 145.6C1876.5 144.5 1886.6 141.1 1897.3 140C1908 138.9 1919.1 139.2 1929.7 139C1940.3 138.8 1955.9 139 1961.1 139" fill="none" stroke="#008080" stroke-width="1.5"/>
<use href="#m7" x="1179.5" y="139"/><use href="#m7" x="1192.1" y="139"/><use href="#m7" x="1223.5" y="139"/><use href="#m7" x="1257.5" y="145.2"/><use href="#m7" x="1289.9" y="152.4"/><use href="#m7" x="1323.3" y="159.4"/><use href="#m7" x="1354.5" y="198.6"/><use href="#m7" x="1387.9" y="323.7"/><use href="#m7" x="1418.6" y="379.3"/><use href="#m7" x="1449.6" y="407.7"/><use href="#m7" x="1481" y="436.4"/><use href="#m7" x="1513" y="510"/><use href="#m7" x="1543.1" y="537.4"/><use href="#m7" x="1577.9" y="550.5"/><use href="#m7" x="1607.3" y="396.9"/><use href="#m7" x="1640.9" y="320.2"/><use href="#m7" x="1673.3" y="274.4"/><use href="#m7" x="1705.5" y="201.9"/><use href="#m7" x="1739" y="170"/><use href="#m7" x="1771.3" y="149.5"/><use href="#m7" x="1802.1" y="148.9"/><use href="#m7" x="1833.2" y="146.3"/><use href="#m7" x="1865.8" y="145.6"/><use href="#m7" x="1897.3" y="140"/><use href="#m7" x="1929.7" y="139"/><use href="#m7" x="1961.1" y="139"/>
</g>
<path d="M1786 296.8H1876" stroke="#000080" stroke-width="1.4"/>
<use href="#m1" x="1831" y="296.8"/>
<text x="1886" y="308.3">D1</text>
<path d="M1786 365.6H1876" stroke="#ff00ff" stroke-width="1.4"/>
<use href="#m2" x="1831" y="365.6"/>
<text x="1886" y="377.1">D2</text>
<path d="M1786 434.5H1876" stroke="#000000" stroke-width="1.4"/>
<use href="#m3" x="1831" y="434.5"/>
<text x="1886" y="446">D3</text>
<path d="M1786 503.4H1876" stroke="#00ffff" stroke-width="1.4"/>
<use href="#m4" x="1831" y="503.4"/>
<text x="1886" y="514.9">D4</text>
<path d="M1786 572.2H1876" stroke="#800080" stroke-width="1.4"/>
<use href="#m5" x="1831" y="572.2"/>
<text x="1886" y="583.7">D5</text>
<path d="M1786 641H1876" stroke="#800000" stroke-width="1.4"/>
<use href="#m6" x="1831" y="641"/>
<text x="1886" y="652.5">D6</text>
<path d="M1786 709.9H1876" stroke="#008080" stroke-width="1.4"/>
<use href="#m7" x="1831" y="709.9"/>
<text x="1886" y="721.4">D7</text>
<text class="cap" x="1563" y="882" text-anchor="middle">(b)</text>
</g>
</svg>
</body>
</html>
